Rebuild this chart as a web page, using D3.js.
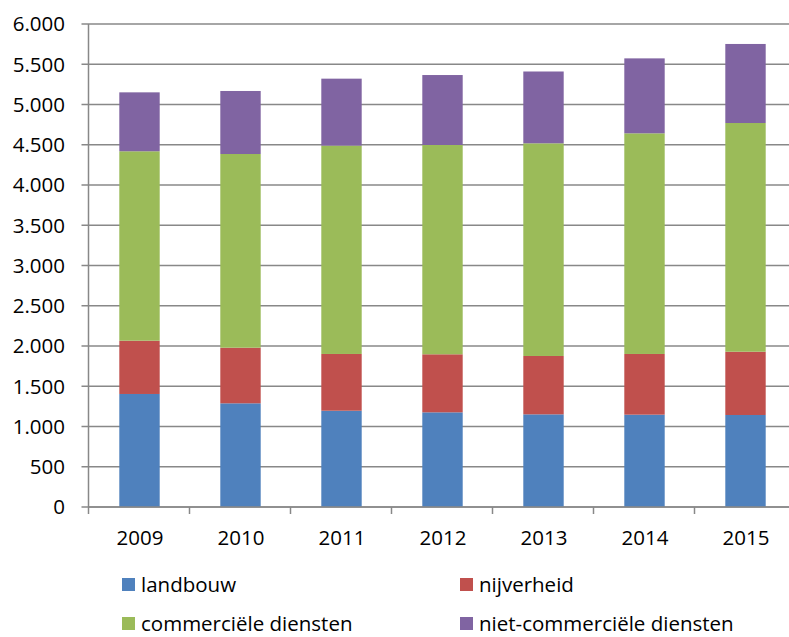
<!DOCTYPE html>
<html><head><meta charset="utf-8">
<script src="https://cdn.jsdelivr.net/npm/d3@7"></script>
<style>body{margin:0;background:#fff}svg{display:block}</style>
</head><body><svg id="c" width="789" height="637"></svg>
<script>
const years = ["2009","2010","2011","2012","2013","2014","2015"];
const seriesNames = ["landbouw","nijverheid","commerciële diensten","niet-commerciële diensten"];
const landbouw = [1404,1288,1196,1176,1151,1147,1143];
const nijverheid = [662,691,705,721,725,754,786];
const commercieel = [2353,2406,2588,2600,2642,2741,2841];
const nietCommercieel = [732,783,832,869,892,931,982];
const yTicks = [0,500,1000,1500,2000,2500,3000,3500,4000,4500,5000,5500,6000];
const colors = ["#4F81BD","#C0504D","#9BBB59","#8064A2"];

(function(){
const svg = d3.select("#c");
const font = "'Open Sans', sans-serif";
const fs = 20.5;
const pL = 88.5, pR = 795.5, pT = 24, pB = 507;
const x = d3.scaleBand().domain(years).range([pL, pR]).padding(0);
const y = d3.scaleLinear().domain([0,6000]).range([pB, pT]);

svg.append("g").selectAll("line").data(yTicks).join("line")
  .attr("x1", pL-7).attr("x2", pR)
  .attr("y1", d=>y(d)).attr("y2", d=>y(d))
  .attr("stroke","#888").attr("stroke-width",1.5);

const fmt = d3.formatLocale({decimal:",",thousands:".",grouping:[3],currency:["",""]}).format(",d");
svg.append("g").selectAll("text").data(yTicks).join("text")
  .attr("x", 65).attr("y", d=>y(d)).attr("dy","0.36em")
  .attr("text-anchor","end").attr("font-family",font).attr("font-size",fs).attr("fill","#000")
  .text(d=>fmt(d));

const rows = years.map((yr,i)=>({year:yr, a:landbouw[i], b:nijverheid[i], c:commercieel[i], d:nietCommercieel[i]}));
const stack = d3.stack().keys(["a","b","c","d"])(rows);
const bw = x.bandwidth()*0.4;
svg.append("g").selectAll("g").data(stack).join("g")
  .attr("fill",(d,i)=>colors[i])
  .selectAll("rect").data(d=>d).join("rect")
  .attr("x", d=>x(d.data.year)+x.bandwidth()/2-bw/2+0.5)
  .attr("width", bw)
  .attr("y", d=>y(d[1]))
  .attr("height", d=>y(d[0])-y(d[1]));

svg.append("line").attr("x1",pL).attr("x2",pL).attr("y1",pT).attr("y2",pB)
  .attr("stroke","#888").attr("stroke-width",1.5);
svg.append("line").attr("x1",pL).attr("x2",pR).attr("y1",pB).attr("y2",pB)
  .attr("stroke","#888").attr("stroke-width",1.5);
svg.append("g").selectAll("line").data(years).join("line")
  .attr("x1",d=>x(d)).attr("x2",d=>x(d)).attr("y1",pB).attr("y2",pB+7)
  .attr("stroke","#888").attr("stroke-width",1.5);
svg.append("g").selectAll("text").data(years).join("text")
  .attr("x", d=>x(d)+x.bandwidth()/2+1).attr("y", 545)
  .attr("text-anchor","middle").attr("font-family",font).attr("font-size",fs).attr("fill","#000")
  .text(d=>d);

const legPos = [[122,578],[460,578],[122,617],[460,617]];
const leg = svg.append("g").selectAll("g").data(seriesNames).join("g")
  .attr("transform",(d,i)=>`translate(${legPos[i][0]},${legPos[i][1]})`);
leg.append("rect").attr("width",13).attr("height",13).attr("fill",(d,i)=>colors[i]);
leg.append("text").attr("x",19).attr("y",13.5).attr("font-family",font).attr("font-size",fs).attr("fill","#000")
  .text(d=>d);
})();
</script></body></html>
